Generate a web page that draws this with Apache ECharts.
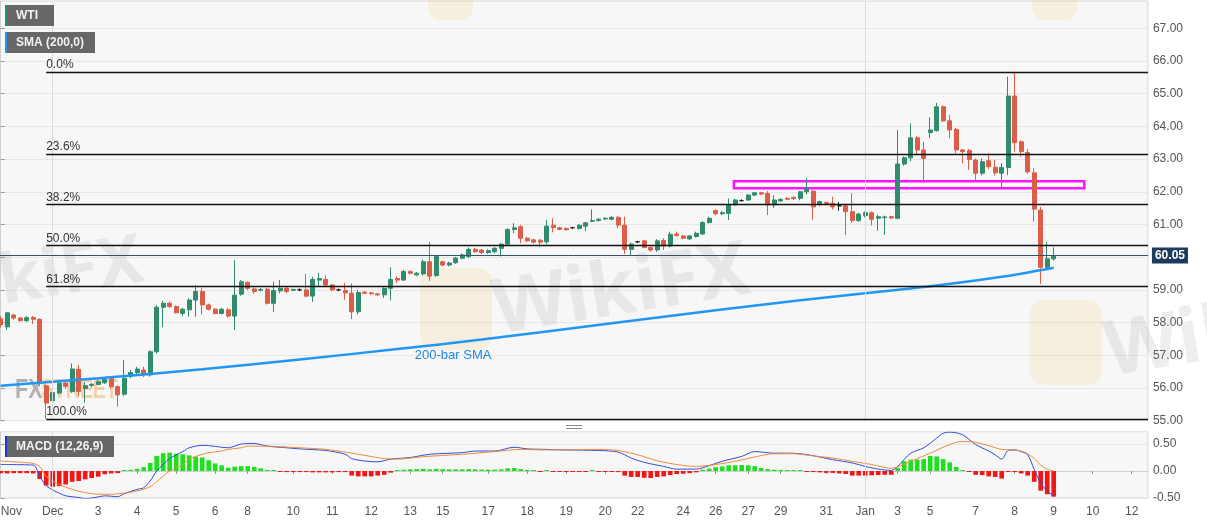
<!DOCTYPE html>
<html><head><meta charset="utf-8">
<script src="https://cdn.jsdelivr.net/npm/echarts/dist/echarts.min.js"></script>
<style>html,body{margin:0;padding:0;background:#fff}#c{width:1207px;height:526px}</style>
</head><body><div id="c"></div>
<script>
// ---------- data ----------
const SLOTS = 177; // 4-hour bar slots shown on the axis (incl. empty future slots)
const tickSlots  = [0,8,15,21,27,33,38,45,51,57,63,68,75,81,87,93,98,105,110,115,120,127,133,138,143,150,156,162,168,174];
const tickLabels = ['Nov','Dec','3','4','5','6','8','10','11','12','13','15','17','18','19','20','22','24','26','27','29','31','Jan','3','5','7','8','9','10','12'];
const monthSlots = [8,133];

// [open, high, low, close]
const candles = [
[58.12,58.20,57.85,57.93],[57.87,58.33,57.77,58.30],[58.23,58.27,58.08,58.14],[58.14,58.17,58.03,58.06],[58.06,58.20,58.02,58.15],
[58.16,58.20,57.96,58.10],[58.10,58.13,56.05,56.15],[56.07,56.12,55.05,55.54],[55.61,55.95,55.55,55.86],[55.85,56.25,55.80,56.15],
[56.15,56.20,55.98,56.05],[55.89,56.75,55.85,56.58],[56.57,56.70,55.75,55.89],[55.99,56.18,55.55,56.07],[56.08,56.15,56.02,56.11],
[56.11,56.25,56.08,56.19],[56.16,56.30,56.12,56.27],[56.30,56.34,55.98,56.04],[56.04,56.08,55.43,55.79],[55.81,56.86,55.75,56.30],
[56.35,56.55,56.30,56.47],[56.47,56.65,56.42,56.58],[56.55,56.65,56.33,56.43],[56.40,57.15,56.35,57.11],[57.11,58.53,57.05,58.47],
[58.47,58.67,57.86,58.59],[58.59,58.65,58.45,58.49],[58.49,58.52,58.28,58.30],[58.28,58.45,58.20,58.41],[58.39,58.75,58.18,58.69],
[58.69,59.15,58.18,58.95],[58.95,59.05,58.25,58.54],[58.54,58.58,58.37,58.41],[58.41,58.45,58.25,58.28],[58.28,58.45,58.25,58.41],
[58.39,58.45,58.15,58.20],[58.20,59.91,57.77,58.84],[58.87,59.30,58.82,59.25],[59.23,59.26,59.00,59.05],[59.03,59.08,58.88,58.95],
[58.99,59.06,58.95,59.01],[59.02,59.06,58.55,58.59],[58.59,59.25,58.33,58.98],[58.97,59.30,58.90,59.05],[59.05,59.10,58.90,58.95],
[58.99,59.04,58.96,59.01],[59.00,59.05,58.96,59.00],[59.00,59.49,58.77,58.81],[58.81,59.40,58.63,59.32],[59.30,59.52,59.12,59.35],
[59.32,59.45,59.10,59.15],[59.15,59.18,58.96,59.00],[59.00,59.04,58.96,59.00],[58.98,59.22,58.70,58.91],[58.90,59.20,58.11,58.33],
[58.33,59.00,58.25,58.92],[58.93,58.96,58.87,58.90],[58.91,58.94,58.85,58.88],[58.88,58.91,58.82,58.85],[58.85,59.08,58.75,59.05],
[59.05,59.69,58.68,59.32],[59.35,59.42,59.20,59.30],[59.30,59.62,59.28,59.56],[59.56,59.60,59.47,59.51],[59.46,59.55,59.42,59.51],
[59.49,59.93,59.44,59.86],[59.86,60.46,59.28,59.42],[59.44,60.07,59.40,60.02],[59.86,59.90,59.72,59.76],[59.76,59.86,59.72,59.82],
[59.83,60.01,59.79,59.97],[59.97,60.12,59.94,60.07],[60.02,60.30,59.98,60.24],[60.24,60.28,60.13,60.17],[60.22,60.25,60.10,60.14],
[60.14,60.24,60.10,60.20],[60.17,60.31,60.12,60.27],[60.27,60.43,60.02,60.40],[60.40,60.88,60.37,60.85],[60.85,61.04,60.73,60.90],
[60.93,60.99,60.43,60.58],[60.58,60.62,60.46,60.50],[60.53,60.56,60.42,60.46],[60.52,60.56,60.30,60.46],[60.47,61.14,60.40,60.95],
[60.98,61.19,60.76,60.91],[60.90,60.93,60.82,60.85],[60.88,60.91,60.81,60.84],[60.90,60.93,60.87,60.90],[60.88,61.01,60.84,60.98],
[60.95,61.08,60.80,61.05],[61.10,61.46,61.07,61.12],[61.12,61.19,61.09,61.16],[61.17,61.22,61.14,61.19],[61.16,61.26,61.13,61.22],
[61.22,61.26,60.88,60.98],[60.98,61.24,60.10,60.24],[60.24,60.45,60.06,60.40],[60.47,60.50,60.43,60.47],[60.50,60.53,60.27,60.30],
[60.30,60.33,60.17,60.22],[60.22,60.55,60.17,60.50],[60.51,60.58,60.22,60.34],[60.34,60.78,60.30,60.70],[60.71,60.78,60.63,60.66],
[60.65,60.68,60.55,60.58],[60.56,60.68,60.53,60.65],[60.63,60.78,60.60,60.73],[60.71,61.10,60.68,61.06],[61.06,61.24,61.03,61.19],
[61.43,61.46,61.28,61.33],[61.33,61.41,61.28,61.36],[61.34,61.80,61.14,61.60],[61.60,61.79,61.57,61.75],[61.73,61.77,61.70,61.73],
[61.75,61.93,61.72,61.90],[61.90,62.00,61.87,61.97],[61.97,62.00,61.90,61.93],[61.95,62.02,61.29,61.60],[61.60,61.90,61.51,61.75],
[61.72,61.80,61.70,61.77],[61.80,61.83,61.74,61.77],[61.83,61.86,61.76,61.79],[61.80,62.03,61.74,62.00],[62.00,62.41,61.92,62.08],
[62.02,62.06,61.14,61.54],[61.63,61.73,61.56,61.70],[61.67,61.70,61.60,61.63],[61.65,61.85,61.46,61.54],[61.57,61.69,61.42,61.57],
[61.57,61.60,60.68,61.39],[61.39,61.95,61.04,61.12],[61.12,61.36,61.08,61.32],[61.27,61.40,61.22,61.36],[61.36,61.40,60.97,61.16],
[61.19,61.30,60.81,61.24],[61.21,61.27,60.68,61.23],[61.24,61.27,61.17,61.20],[61.19,63.89,61.16,62.85],[62.85,63.08,62.80,63.04],
[63.04,64.09,62.93,63.65],[63.65,63.70,63.13,63.28],[63.28,63.53,62.26,63.02],[63.81,64.28,63.64,63.89],[63.87,64.72,63.84,64.60],
[64.60,64.65,64.13,64.17],[64.17,64.35,63.64,63.89],[63.91,63.95,63.18,63.28],[63.28,63.31,62.87,63.23],[63.26,63.31,62.67,62.99],
[62.97,63.02,62.36,62.57],[62.57,63.02,62.50,62.92],[62.95,63.18,62.70,62.77],[62.75,62.98,62.50,62.58],[62.57,62.88,62.11,62.74],
[62.74,65.52,62.51,64.93],[64.93,65.67,63.23,63.50],[63.53,63.58,63.07,63.23],[63.20,63.31,62.55,62.61],[62.58,62.72,61.09,61.47],
[61.44,61.54,59.18,59.69],[59.69,60.47,59.66,59.95],[59.95,60.30,59.90,60.05]
];
const lastPrice = 60.05;

// 200-bar SMA, read as [slot, value]
const smaLine = [[0,56.07],[15,56.30],[31,56.57],[46,56.87],[61,57.19],[74,57.48],[94,57.98],[110,58.38],[123,58.68],[133,58.90],[143,59.11],[154,59.40],[162,59.68]];

// Fibonacci retracement
const fibHigh = 65.66, fibLow = 55.05, fibStartSlot = 7;
const fibLevels = [0, 23.6, 38.2, 50, 61.8, 100];

// resistance zone (magenta box)
const zoneFrom = 112.8, zoneTo = 166.7, zoneTop = 62.32, zoneBottom = 62.11;

// MACD (12,26,9)
const macdHist = [
-0.04,-0.045,-0.04,-0.04,-0.04,-0.045,-0.15,-0.27,-0.29,-0.28,
-0.25,-0.2,-0.185,-0.155,-0.13,-0.105,-0.06,-0.045,-0.04,0.01,
0.02,0.04,0.07,0.15,0.28,0.33,0.34,0.32,0.31,0.29,
0.265,0.25,0.2,0.14,0.105,0.06,0.08,0.09,0.09,0.075,
0.05,0.012,0.005,-0.01,-0.02,-0.02,-0.02,-0.02,-0.025,-0.025,
-0.025,-0.025,-0.02,-0.02,-0.085,-0.1,-0.1,-0.1,-0.085,-0.07,
-0.03,0.01,0.025,0.03,0.035,0.04,0.03,0.04,0.035,0.03,
0.03,0.03,0.035,0.03,0.025,0.025,0.025,0.03,0.05,0.055,
0.035,0.02,0.005,-0.008,0.006,-0.006,-0.008,-0.008,-0.008,-0.005,
-0.004,0.004,-0.006,-0.008,-0.01,-0.02,-0.085,-0.11,-0.11,-0.125,
-0.13,-0.11,-0.1,-0.075,-0.055,-0.05,-0.04,-0.025,0.025,0.045,
0.07,0.085,0.105,0.105,0.11,0.105,0.09,0.055,0.035,0.025,
0.012,0.012,0.006,0.006,-0.004,-0.02,-0.025,-0.035,-0.035,-0.045,
-0.055,-0.085,-0.085,-0.085,-0.08,-0.075,-0.07,-0.07,0.055,0.18,
0.21,0.21,0.22,0.28,0.27,0.22,0.16,0.075,0.005,-0.01,
-0.07,-0.075,-0.1,-0.11,-0.14,-0.005,-0.01,-0.045,-0.085,-0.2,
-0.365,-0.43,-0.475
];
const macdLine = [[0,0.12],[5,0.11],[6,-0.1],[7,-0.27],[8,-0.35],[9,-0.41],[10,-0.46],[12,-0.49],[13,-0.51],[15,-0.48],[16,-0.46],[18,-0.475],[19,-0.42],[21,-0.34],[22,-0.31],[23,-0.185],[24,0.0],[25,0.12],[26,0.23],[28,0.36],[29,0.43],[31,0.475],[32,0.47],[34,0.44],[35,0.43],[36,0.46],[37,0.5],[39,0.51],[40,0.49],[41,0.46],[43,0.44],[44,0.43],[46,0.41],[50,0.38],[53,0.31],[54,0.23],[56,0.185],[58,0.17],[60,0.22],[63,0.25],[66,0.31],[71,0.34],[73,0.37],[76,0.37],[79,0.44],[81,0.41],[84,0.40],[87,0.39],[92,0.38],[95,0.35],[97,0.24],[99,0.16],[102,0.085],[104,0.035],[107,0.035],[109,0.1],[111,0.18],[114,0.27],[116,0.36],[119,0.33],[121,0.33],[123,0.32],[126,0.26],[128,0.21],[131,0.15],[133,0.085],[135,0.035],[137,0.01],[138,0.085],[140,0.33],[142,0.43],[144,0.61],[145,0.70],[146,0.72],[148,0.67],[150,0.49],[152,0.37],[153,0.30],[154,0.22],[155,0.38],[156,0.39],[157,0.36],[158,0.30],[159,0.03],[160,-0.22],[161,-0.37],[162,-0.46]];
const signalLine = [[0,0.185],[4,0.155],[5,0.14],[6,0.08],[7,-0.1],[9,-0.25],[11,-0.34],[13,-0.40],[15,-0.43],[17,-0.43],[19,-0.41],[21,-0.37],[23,-0.29],[24,-0.2],[26,0.0],[28,0.12],[29,0.22],[31,0.31],[32,0.34],[34,0.37],[35,0.40],[37,0.43],[38,0.46],[41,0.46],[43,0.45],[46,0.43],[50,0.40],[53,0.35],[56,0.29],[59,0.23],[61,0.22],[65,0.265],[71,0.31],[76,0.36],[80,0.40],[84,0.39],[87,0.39],[92,0.40],[95,0.38],[98,0.30],[101,0.19],[104,0.12],[107,0.085],[110,0.12],[113,0.18],[116,0.26],[119,0.32],[122,0.32],[125,0.28],[128,0.24],[131,0.18],[134,0.12],[137,0.05],[140,0.18],[143,0.33],[146,0.49],[148,0.55],[150,0.53],[152,0.47],[154,0.40],[156,0.39],[157,0.37],[158,0.32],[159,0.23],[160,0.11],[161,0.03],[162,0.0]];

// ---------- chart ----------
const UP = '#2f8c6c', DOWN = '#dc5e48';
const HIST_UP = '#1fe01f', HIST_DOWN = '#f21616';
const FONT = '"Liberation Sans", Arial, sans-serif';
const tickSet = new Set(tickSlots);
const labelOf = {}; tickSlots.forEach((s, k) => { labelOf[s] = tickLabels[k]; });
const slotNames = Array.from({length: SLOTS}, (_, i) => String(i));
const candleData = candles.map(r => [r[0], r[3], r[2], r[1]]);
const fibPrice = p => fibHigh - (fibHigh - fibLow) * p / 100;

const gridBase = {left: -2.55, width: 1150.5, show: true, backgroundColor: '#f7f7f7', borderColor: '#d6d6d6', borderWidth: 1, containLabel: false, outerBoundsMode: 'none'};
const yBase = {
  type: 'value', position: 'right', scale: false,
  axisLine: {show: true, lineStyle: {color: '#cfcfcf'}},
  axisTick: {show: true, length: 4, lineStyle: {color: '#999'}},
  axisLabel: {color: '#555', fontSize: 12, fontFamily: FONT, margin: 5, formatter: v => v.toFixed(2), showMaxLabel: false, showMinLabel: true},
  splitLine: {show: true, lineStyle: {color: '#e6e6e6', width: 1}}
};
const monthMark = {
  silent: true, symbol: ['none', 'none'], label: {show: false},
  lineStyle: {color: '#dcdcdc', width: 1, type: 'solid'},
  data: monthSlots.map(s => ({xAxis: s}))
};

const wmText = 'rgba(140,140,140,0.15)';
const wmLogo = 'rgba(240,195,95,0.15)';

const option = {
  animation: false,
  backgroundColor: '#ffffff',
  grid: [
    Object.assign({top: 1, height: 419.7}, gridBase),
    Object.assign({top: 431.7, height: 66.3}, gridBase)
  ],
  xAxis: [
    {type: 'category', gridIndex: 0, data: slotNames, boundaryGap: true, axisLine: {show: false}, axisTick: {show: false}, axisLabel: {show: false}, splitLine: {show: false}},
    {type: 'category', gridIndex: 1, data: slotNames, boundaryGap: true,
     axisLine: {show: true, lineStyle: {color: '#cfcfcf'}},
     axisTick: {show: true, alignWithLabel: true, interval: (i) => tickSet.has(i), length: 3, lineStyle: {color: '#999'}},
     axisLabel: {show: true, interval: (i) => tickSet.has(i), formatter: (v) => labelOf[Number(v)] || '', color: '#555', fontSize: 12, fontFamily: FONT, margin: 8, alignMinLabel: 'left'},
     splitLine: {show: false}},
    {type: 'value', gridIndex: 0, min: -0.5, max: SLOTS - 0.5, show: false, splitLine: {show: false}},
    {type: 'value', gridIndex: 1, min: -0.5, max: SLOTS - 0.5, show: false, splitLine: {show: false}}
  ],
  yAxis: [
    Object.assign({}, yBase, {gridIndex: 0, min: 55, max: 67.835, interval: 1}),
    Object.assign({}, yBase, {gridIndex: 1, min: -0.5, max: 0.728, interval: 0.5})
  ],
  series: [
    {type: 'line', xAxisIndex: 2, yAxisIndex: 0, data: [], silent: true, markLine: monthMark},
    {type: 'line', xAxisIndex: 3, yAxisIndex: 1, data: [], silent: true, markLine: monthMark},
    {
      type: 'candlestick', name: 'WTI', xAxisIndex: 0, yAxisIndex: 0, data: candleData, barWidth: '66%',
      itemStyle: {color: UP, color0: DOWN, borderColor: UP, borderColor0: DOWN, borderColorDoji: '#222', borderWidth: 1},
      markLine: {
        silent: true, symbol: ['none', 'none'],
        lineStyle: {color: '#34506f', width: 1, type: 'solid'},
        label: {show: true, position: 'end', formatter: lastPrice.toFixed(2), color: '#ffffff', backgroundColor: '#1e3a5c', fontWeight: 'bold', fontSize: 12, fontFamily: FONT, padding: [2, 3, 2, 3], distance: 4},
        data: [{yAxis: lastPrice}]
      }
    },
    {
      type: 'line', name: 'SMA (200,0)', xAxisIndex: 2, yAxisIndex: 0, data: smaLine, smooth: 0.3, symbol: 'none',
      lineStyle: {color: '#2196f3', width: 2.5}, z: 3,
      markLine: {
        silent: true, symbol: ['none', 'none'],
        lineStyle: {color: '#111', width: 1.3, type: 'solid'},
        label: {show: true, position: 'insideStartTop', color: '#333', fontSize: 12, fontFamily: FONT, distance: [0, 1]},
        data: fibLevels.map(p => [
          {coord: [fibStartSlot, fibPrice(p)], label: {formatter: p.toFixed(1) + '%'}},
          {coord: [SLOTS - 0.5, fibPrice(p)]}
        ])
      },
      markArea: {
        silent: true,
        itemStyle: {color: 'rgba(255,255,255,0.25)', borderColor: '#ff14ff', borderWidth: 2.5},
        data: [[{coord: [zoneFrom, zoneTop]}, {coord: [zoneTo, zoneBottom]}]]
      },
      markPoint: {
        silent: true, symbol: 'rect', symbolSize: [1, 1], itemStyle: {color: 'rgba(0,0,0,0)'},
        label: {show: true, position: 'inside', formatter: '200-bar SMA', color: '#1e88e5', fontSize: 13, fontFamily: FONT},
        data: [{coord: [69.6, 57.01]}]
      }
    },
    {type: 'line', name: 'MACD', xAxisIndex: 3, yAxisIndex: 1, data: macdLine, smooth: 0.3, symbol: 'none', lineStyle: {color: '#2f4fd8', width: 1}},
    {type: 'line', name: 'Signal', xAxisIndex: 3, yAxisIndex: 1, data: signalLine, smooth: 0.3, symbol: 'none', lineStyle: {color: '#f28a3a', width: 1}},
    {type: 'bar', name: 'Histogram', xAxisIndex: 1, yAxisIndex: 1, barWidth: '72%', barMinHeight: 1,
     data: macdHist.map(v => ({value: v, itemStyle: {color: v >= 0 ? HIST_UP : HIST_DOWN}}))}
  ],
  graphic: [
    // watermarks
    {type: 'text', x: -80, y: 332, rotation: 0.16, z: 1, silent: true, style: {text: 'WikiFX', font: 'bold 68px "Noto Sans", sans-serif', fill: wmText, verticalAlign: 'bottom'}},
    {type: 'rect', x: 420, y: 268, z: 1, silent: true, shape: {width: 72, height: 82, r: 14}, style: {fill: wmLogo}},
    {type: 'text', x: 500, y: 350, rotation: 0.16, z: 1, silent: true, style: {text: 'WikiFX', font: 'bold 76px "Noto Sans", sans-serif', fill: wmText, verticalAlign: 'bottom'}},
    {type: 'rect', x: 1030, y: 300, z: 1, silent: true, shape: {width: 72, height: 85, r: 14}, style: {fill: wmLogo}},
    {type: 'text', x: 1112, y: 392, rotation: 0.16, z: 1, silent: true, style: {text: 'WikiFX', font: 'bold 76px "Noto Sans", sans-serif', fill: wmText, verticalAlign: 'bottom'}},
    {type: 'rect', x: 428, y: -60, z: 1, silent: true, shape: {width: 45, height: 80, r: 12}, style: {fill: wmLogo}},
    {type: 'rect', x: 1032, y: -60, z: 1, silent: true, shape: {width: 45, height: 80, r: 12}, style: {fill: wmLogo}},
    {type: 'text', x: 15, y: 391, scaleX: 0.8, z: 1, silent: true, style: {text: 'FX', font: 'bold 27px "Liberation Sans", sans-serif', fill: 'rgba(120,120,120,0.55)', verticalAlign: 'middle'}},
    {type: 'text', x: 41, y: 391, scaleX: 0.72, z: 1, silent: true, style: {text: 'STREET', font: 'bold 27px "Liberation Sans", sans-serif', fill: 'rgba(240,160,80,0.45)', verticalAlign: 'middle'}},
    // legend boxes
    {type: 'rect', x: 5, y: 5, z: 20, shape: {width: 49, height: 21}, style: {fill: '#676767'}},
    {type: 'rect', x: 5, y: 5, z: 21, shape: {width: 2, height: 21}, style: {fill: '#2f8c6c'}},
    {type: 'text', x: 16, y: 15.5, z: 22, style: {text: 'WTI', font: 'bold 12px ' + FONT, fill: '#f2f2f2', verticalAlign: 'middle'}},
    {type: 'rect', x: 5, y: 32, z: 20, shape: {width: 90, height: 21}, style: {fill: '#676767'}},
    {type: 'rect', x: 5, y: 32, z: 21, shape: {width: 2, height: 21}, style: {fill: '#2196f3'}},
    {type: 'text', x: 16, y: 42.5, z: 22, style: {text: 'SMA (200,0)', font: 'bold 12px ' + FONT, fill: '#f2f2f2', verticalAlign: 'middle'}},
    {type: 'rect', x: 5, y: 436, z: 20, shape: {width: 109, height: 21}, style: {fill: '#676767'}},
    {type: 'rect', x: 5, y: 436, z: 21, shape: {width: 2, height: 21}, style: {fill: '#1a3cc4'}},
    {type: 'text', x: 16, y: 446.5, z: 22, style: {text: 'MACD (12,26,9)', font: 'bold 12px ' + FONT, fill: '#f2f2f2', verticalAlign: 'middle'}},
    // pane separator handle
    {type: 'line', z: 20, shape: {x1: 566, y1: 425.5, x2: 582, y2: 425.5}, style: {stroke: '#8a8a8a', lineWidth: 1}},
    {type: 'line', z: 20, shape: {x1: 566, y1: 428.5, x2: 582, y2: 428.5}, style: {stroke: '#8a8a8a', lineWidth: 1}}
  ]
};

const chart = echarts.init(document.getElementById('c'));
chart.setOption(option);
</script>
</body></html>
